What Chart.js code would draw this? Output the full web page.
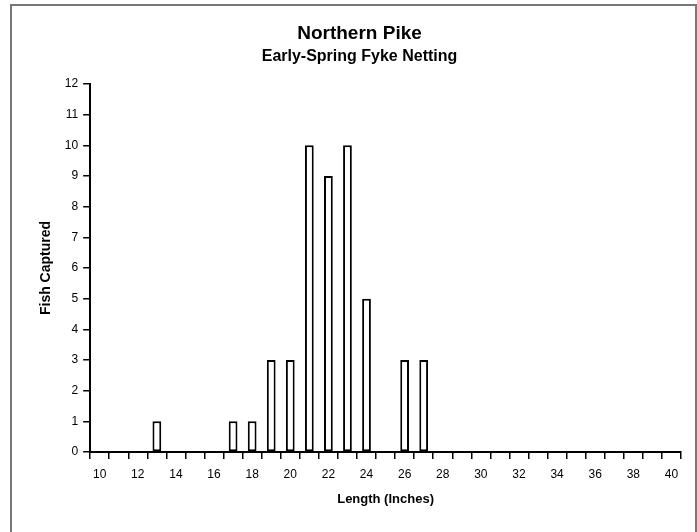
<!DOCTYPE html>
<html>
<head>
<meta charset="utf-8">
<script src="https://cdn.jsdelivr.net/npm/chart.js@4/dist/chart.umd.min.js"></script>
<style>
html,body{margin:0;padding:0;background:#fff;}
#wrap{position:relative;width:697px;height:532px;}
#frame{position:absolute;left:10px;top:4px;width:683px;height:540px;border:2px solid #777;pointer-events:none;}
</style>
</head>
<body>
<div id="wrap">
<canvas id="c" width="697" height="532"></canvas>
<div id="frame"></div>
</div>
<script>
const categories = ['10','11','12','13','14','15','16','17','18','19','20','21','22','23','24','25','26','27','28','29','30','31','32','33','34','35','36','37','38','39','40'];
const fishCaptured = [0,0,0,1,0,0,0,1,1,3,3,10,9,10,5,0,3,3,0,0,0,0,0,0,0,0,0,0,0,0,0];
const yTicks = [0,1,2,3,4,5,6,7,8,9,10,11,12];

const FONT = '"Liberation Sans", Arial, sans-serif';
Chart.defaults.font.family = FONT;
Chart.defaults.color = '#000';

new Chart(document.getElementById('c'), {
  type: 'bar',
  data: {
    labels: categories,
    datasets: [{
      data: fishCaptured,
      backgroundColor: '#fff',
      borderColor: '#000',
      borderWidth: 2,
      barPercentage: 0.46,
      categoryPercentage: 1.0,
      borderSkipped: false
    }]
  },
  options: {
    responsive: false,
    animation: false,
    devicePixelRatio: 1,
    layout: { padding: { left: 38, right: 16, top: 10, bottom: 21 } },
    plugins: {
      legend: { display: false },
      tooltip: { enabled: false },
      title: {
        display: true,
        text: 'Northern Pike',
        font: { size: 19, weight: 'bold', family: FONT },
        color: '#000',
        padding: { top: 12, bottom: 2 }
      },
      subtitle: {
        display: true,
        text: 'Early-Spring Fyke Netting',
        font: { size: 16, weight: 'bold', family: FONT },
        color: '#000',
        padding: { top: 0, bottom: 18 }
      }
    },
    scales: {
      x: {
        offset: true,
        grid: { display: true, drawOnChartArea: false, offset: true, tickLength: 7, color: '#000', lineWidth: 1.5 },
        border: { display: true, color: '#000', width: 2 },
        ticks: {
          autoSkip: false,
          maxRotation: 0,
          padding: 8,
          font: { size: 12, family: FONT },
          color: '#000',
          callback: function(v, i) { const l = categories[i]; return (parseInt(l) % 2 === 0) ? l : ''; }
        },
        title: { display: true, text: 'Length (Inches)', font: { size: 13, weight: 'bold', family: FONT }, color: '#000', padding: { top: 2 } }
      },
      y: {
        min: yTicks[0],
        max: yTicks[yTicks.length - 1],
        afterBuildTicks: function(s) { s.ticks = yTicks.map(v => ({ value: v })); },
        grid: { display: true, drawOnChartArea: false, tickLength: 7, color: '#000', lineWidth: 1.5 },
        border: { display: true, color: '#000', width: 2 },
        ticks: { padding: 5, font: { size: 12, family: FONT }, color: '#000' },
        title: { display: true, text: 'Fish Captured', font: { size: 14, weight: 'bold', family: FONT }, color: '#000', padding: { top: 0, bottom: 5 } }
      }
    }
  }
});
</script>
</body>
</html>
